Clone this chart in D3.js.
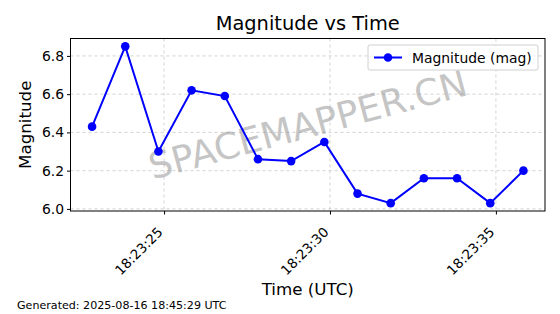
<!DOCTYPE html>
<html><head><meta charset="utf-8">
<script src="https://cdn.jsdelivr.net/npm/d3@7"></script>
<style>body{margin:0;background:#fff;}svg{display:block;font-family:"DejaVu Sans",sans-serif;}</style>
</head><body><div id="chart"></div>
<script>
const times = ["18:23:22.83","18:23:23.83","18:23:24.83","18:23:25.83","18:23:26.83","18:23:27.83","18:23:28.83","18:23:29.83","18:23:30.83","18:23:31.83","18:23:32.83","18:23:33.83","18:23:34.83","18:23:35.83"];
const magnitudes = [6.43,6.85,6.30,6.62,6.59,6.26,6.25,6.35,6.08,6.03,6.16,6.16,6.03,6.20];
const yTicks = [6.0,6.2,6.4,6.6,6.8];
const xTickTimes = ["18:23:25","18:23:30","18:23:35"];
const title = "Magnitude vs Time";
const xLabel = "Time (UTC)";
const yLabel = "Magnitude";
const legendLabel = "Magnitude (mag)";
const footer = "Generated: 2025-08-16 18:45:29 UTC";
const watermark = "SPACEMAPPER.CN";

const W=560,H=314;
const m={left:70.5,right:545,top:38.5,bottom:211};
const parse = s => { const [h,mi,se]=s.split(":"); const sec=+se; return new Date(Date.UTC(2025,7,16,+h,+mi,Math.floor(sec),Math.round((sec-Math.floor(sec))*1000))); };
const data = times.map((t,i)=>({t:parse(t),v:magnitudes[i]}));
const svg=d3.select("#chart").append("svg").attr("width",W).attr("height",H);
svg.append("rect").attr("width",W).attr("height",H).attr("fill","#fff");

const tExt=d3.extent(data,d=>d.t), span=tExt[1]-tExt[0];
const x=d3.scaleUtc().domain([new Date(+tExt[0]-span*0.05),new Date(+tExt[1]+span*0.05)]).range([m.left,m.right]);
const vExt=d3.extent(magnitudes), vs=vExt[1]-vExt[0];
const y=d3.scaleLinear().domain([vExt[0]-vs*0.05,vExt[1]+vs*0.05]).range([m.bottom,m.top]);
const xt=xTickTimes.map(parse);

// grid
const g=svg.append("g");
g.selectAll(".gx").data(xt).enter().append("line").attr("x1",d=>x(d)).attr("x2",d=>x(d)).attr("y1",m.top).attr("y2",m.bottom)
 .attr("stroke","#b0b0b0").attr("stroke-width",0.8).attr("stroke-dasharray","3,3").attr("opacity",0.7);
g.selectAll(".gy").data(yTicks).enter().append("line").attr("y1",d=>y(d)).attr("y2",d=>y(d)).attr("x1",m.left).attr("x2",m.right)
 .attr("stroke","#b0b0b0").attr("stroke-width",0.8).attr("stroke-dasharray","3,3").attr("opacity",0.7);

// watermark
svg.append("text").attr("transform",`translate(${(m.left+m.right)/2},${(m.top+m.bottom)/2}) rotate(-15)`)
 .attr("text-anchor","middle").attr("dy","0.35em").attr("font-size",36.5).attr("fill","#808080").attr("opacity",0.45).text(watermark);

// line + points
svg.append("path").datum(data).attr("fill","none").attr("stroke","#0000ff").attr("stroke-width",2)
 .attr("d",d3.line().x(d=>x(d.t)).y(d=>y(d.v)));
svg.selectAll(".pt").data(data).enter().append("circle").attr("cx",d=>x(d.t)).attr("cy",d=>y(d.v)).attr("r",4.3).attr("fill","#0000ff");

// axes
const fmt=d3.utcFormat("%H:%M:%S");
const xa=svg.append("g").attr("transform",`translate(0,${m.bottom})`).call(d3.axisBottom(x).tickValues(xt).tickFormat(fmt).tickSize(3.5).tickSizeOuter(0));
xa.select(".domain").remove();
xa.selectAll("text").attr("font-size",13.5).attr("fill","#000").attr("font-family","DejaVu Sans")
 .attr("text-anchor","end").attr("y",0).attr("dy",0).attr("transform","translate(-1,22) rotate(-45)");
xa.selectAll("line").attr("stroke","#000");
const ya=svg.append("g").attr("transform",`translate(${m.left},0)`).call(d3.axisLeft(y).tickValues(yTicks).tickFormat(d3.format(".1f")).tickSize(3.5).tickSizeOuter(0));
ya.select(".domain").remove();
ya.selectAll("text").attr("font-size",13.9).attr("fill","#000").attr("font-family","DejaVu Sans");
ya.selectAll("line").attr("stroke","#000");
svg.append("rect").attr("x",m.left).attr("y",m.top).attr("width",m.right-m.left).attr("height",m.bottom-m.top).attr("fill","none").attr("stroke","#000").attr("stroke-width",1);

// title & labels
svg.append("text").attr("x",(m.left+m.right)/2).attr("y",30).attr("text-anchor","middle").attr("font-size",19.4).text(title);
svg.append("text").attr("x",(m.left+m.right)/2).attr("y",295).attr("text-anchor","middle").attr("font-size",16.7).text(xLabel);
svg.append("text").attr("transform",`translate(31,${(m.top+m.bottom)/2}) rotate(-90)`).attr("text-anchor","middle").attr("font-size",16.7).text(yLabel);
svg.append("text").attr("x",17).attr("y",309).attr("font-size",11.1).text(footer);

// legend
const lg=svg.append("g").attr("transform","translate(368,45)");
lg.append("rect").attr("width",170).attr("height",25).attr("rx",2).attr("fill","#fff").attr("fill-opacity",0.8).attr("stroke","#d0d0d0");
lg.append("line").attr("x1",6).attr("x2",34).attr("y1",12.5).attr("y2",12.5).attr("stroke","#0000ff").attr("stroke-width",2);
lg.append("circle").attr("cx",20).attr("cy",12.5).attr("r",4.3).attr("fill","#0000ff");
lg.append("text").attr("x",44).attr("y",17.5).attr("font-size",13.9).text(legendLabel);
</script></body></html>
